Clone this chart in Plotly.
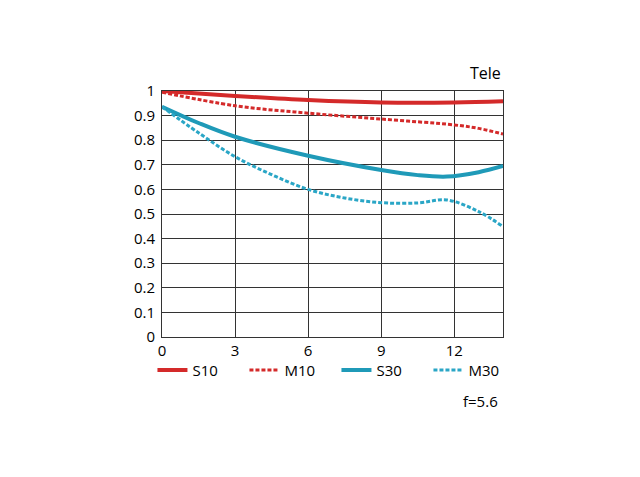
import plotly.graph_objects as go

x_s10 = [0, 3, 6, 9, 12, 14]
y_s10 = [1.0, 0.98, 0.963, 0.953, 0.953, 0.958]

x_m10 = [0, 3, 6, 9, 12, 13, 14]
y_m10 = [0.995, 0.94, 0.91, 0.886, 0.862, 0.848, 0.825]

x_s30 = [0, 1.5, 3, 6, 9, 10.5, 11.7, 13, 14]
y_s30 = [0.936, 0.87, 0.814, 0.737, 0.679, 0.658, 0.652, 0.67, 0.695]

x_m30 = [0, 1.5, 3, 4.5, 6, 7.5, 9, 10.5, 11.7, 13, 14]
y_m30 = [0.936, 0.83, 0.733, 0.66, 0.60, 0.565, 0.546, 0.545, 0.557, 0.51, 0.449]

RED = "#d42a2a"
TEAL = "#1f9ab8"
CYAN = "#2aa6c6"

fig = go.Figure()
fig.add_trace(go.Scatter(x=x_s10, y=y_s10, mode="lines", name="S10",
                         line=dict(color=RED, width=4, shape="spline")))
fig.add_trace(go.Scatter(x=x_m10, y=y_m10, mode="lines", name="M10",
                         line=dict(color=RED, width=3, dash="4px,2px", shape="spline")))
fig.add_trace(go.Scatter(x=x_s30, y=y_s30, mode="lines", name="S30",
                         line=dict(color=TEAL, width=4, shape="spline")))
fig.add_trace(go.Scatter(x=x_m30, y=y_m30, mode="lines", name="M30",
                         line=dict(color=CYAN, width=3, dash="4px,2px", shape="spline")))

fig.update_layout(
    width=640, height=477,
    margin=dict(l=154, r=145, t=83, b=148, autoexpand=False),
    paper_bgcolor="white", plot_bgcolor="white",
    font=dict(family="Open Sans", size=15, color="#000"),
    showlegend=True,
    legend=dict(orientation="h", x=-0.028, xanchor="left", y=-0.135, yanchor="middle",
                entrywidth=47, entrywidthmode="pixels", itemwidth=30,
                font=dict(size=15), bgcolor="rgba(0,0,0,0)", tracegroupgap=0),
    xaxis=dict(range=[0, 14], tickvals=[0, 3, 6, 9, 12], showgrid=True,
               gridcolor="#333", gridwidth=1, showline=True, linecolor="#333",
               mirror=True, zeroline=False, ticks="", ticklen=0,
               ticklabelstandoff=0),
    yaxis=dict(range=[0, 1], tickvals=[i / 10 for i in range(11)],
               ticktext=["0", "0.1", "0.2", "0.3", "0.4", "0.5", "0.6", "0.7", "0.8", "0.9", "1"],
               showgrid=True, gridcolor="#333", gridwidth=1, showline=True,
               linecolor="#333", mirror=True, zeroline=False, ticks="",
               ticklabelstandoff=3),
    annotations=[
        dict(text="Tele", xref="paper", yref="paper", x=1.0, y=1.02,
             xanchor="right", yanchor="bottom", showarrow=False, font=dict(size=16)),
        dict(text="f=5.6", xref="paper", yref="paper", x=0.99, y=-0.26,
             xanchor="right", yanchor="middle", showarrow=False, font=dict(size=15)),
    ],
)

fig.write_html("out.html")
